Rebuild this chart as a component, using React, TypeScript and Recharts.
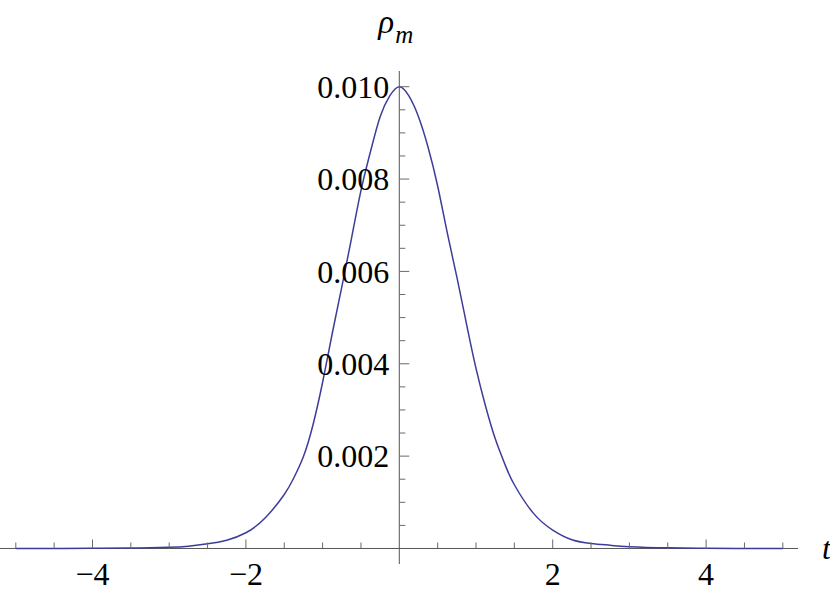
import React from 'react';
import { LineChart, Line, XAxis, YAxis, ReferenceLine, ReferenceDot } from 'recharts';

// t values (horizontal axis) and rho_m values
const tValues = [
  -5, -4.5, -4, -3.5, -3, -2.75, -2.5, -2.25, -2, -1.75, -1.5, -1.375, -1.25, -1.125, -1,
  -0.875, -0.75, -0.625, -0.5, -0.375, -0.25, -0.125, 0, 0.125, 0.25, 0.375, 0.5, 0.625,
  0.75, 0.875, 1, 1.125, 1.25, 1.375, 1.5, 1.75, 2, 2.25, 2.5, 2.75, 3, 3.5, 4, 4.5, 5,
];
const rhoValues = [
  0, 0.000001, 0.000003, 0.00001, 0.000025, 0.00005, 0.0001, 0.00018, 0.00034, 0.00066,
  0.00117, 0.00153, 0.00199, 0.00268, 0.0036, 0.00465, 0.00566, 0.0067, 0.00775, 0.0086,
  0.00935, 0.0098, 0.01, 0.0098, 0.00935, 0.00869, 0.00785, 0.00684, 0.00588, 0.00487,
  0.0039, 0.00308, 0.00238, 0.00183, 0.00138, 0.00076, 0.0004, 0.00019, 0.00011, 0.00007,
  0.00004, 0.000015, 0.000005, 0.000002, 0.000001,
];

const xDomain = [-5.206, 5.198];
const yDomain = [-0.000336, 0.01034];

const xMinorTicks = [-5, -4.5, -3.5, -3, -2.5, -1.5, -1, -0.5, 0.5, 1, 1.5, 2.5, 3, 3.5, 4.5, 5];
const xMajorTicks = [-4, -2, 2, 4];
const xTickLabels = ['\u22124', '\u22122', '2', '4'];

const yMinorTicks = [
  0.0005, 0.001, 0.0015, 0.0025, 0.003, 0.0035, 0.0045, 0.005, 0.0055, 0.0065, 0.007, 0.0075,
  0.0085, 0.009, 0.0095,
];
const yMajorTicks = [0.002, 0.004, 0.006, 0.008, 0.01];
const yTickLabels = ['0.002', '0.004', '0.006', '0.008', '0.010'];

const data = tValues.map((t, i) => ({ t, rho: rhoValues[i] }));

const SERIF = '"Liberation Serif", "Times New Roman", serif';
const AXIS_COLOR = '#555555';
const TICK_COLOR = '#6a6a6a';
const CURVE_COLOR = '#3d3d99';

const vTick = (len: number) => (p: any) => (
  <line x1={p.cx} y1={p.cy} x2={p.cx} y2={p.cy - len} stroke={TICK_COLOR} strokeWidth={1} />
);
const hTick = (len: number) => (p: any) => (
  <line x1={p.cx} y1={p.cy} x2={p.cx + len} y2={p.cy} stroke={TICK_COLOR} strokeWidth={1} />
);
const noShape = () => <g />;

const RhoLabel = (props: any) => {
  const vb = props.viewBox || {};
  return (
    <text x={vb.x - 21} y={vb.y - 38} fontFamily={SERIF} fill="#000">
      <tspan fontSize={33} fontStyle="italic">ρ</tspan>
      <tspan fontSize={25} fontStyle="italic" dx={1} dy={10}>m</tspan>
    </text>
  );
};

const TLabel = (props: any) => {
  const vb = props.viewBox || {};
  return (
    <text x={vb.x + 24} y={vb.y + 11} fontFamily={SERIF} fontSize={32} fontStyle="italic" fill="#000">
      t
    </text>
  );
};

export default function App() {
  return (
    <div style={{ position: 'absolute', left: 0, top: 0, width: 830, height: 595, background: '#fff' }}>
      <LineChart
        width={830}
        height={595}
        data={data}
        margin={{ top: 71, right: 32, bottom: 31, left: 0 }}
      >
        <XAxis dataKey="t" type="number" domain={xDomain} allowDataOverflow hide />
        <YAxis type="number" domain={yDomain} allowDataOverflow hide />
        <ReferenceLine x={0} stroke={AXIS_COLOR} strokeWidth={1} />
        <ReferenceLine y={0} stroke={AXIS_COLOR} strokeWidth={1} />
        {xMinorTicks.map((t) => (
          <ReferenceDot key={'xm' + t} x={t} y={0} r={0} shape={vTick(6)} />
        ))}
        {xMajorTicks.map((t, i) => (
          <ReferenceDot
            key={'xM' + t}
            x={t}
            y={0}
            r={0}
            shape={vTick(9)}
            label={{
              value: xTickLabels[i],
              position: 'bottom',
              offset: 14,
              fill: '#000',
              fontSize: 32,
              fontFamily: SERIF,
            }}
          />
        ))}
        {yMinorTicks.map((v) => (
          <ReferenceDot key={'ym' + v} x={0} y={v} r={0} shape={hTick(6)} />
        ))}
        {yMajorTicks.map((v, i) => (
          <ReferenceDot
            key={'yM' + v}
            x={0}
            y={v}
            r={0}
            shape={hTick(10)}
            label={{
              value: yTickLabels[i],
              position: 'left',
              offset: 10,
              fill: '#000',
              fontSize: 32,
              fontFamily: SERIF,
            }}
          />
        ))}
        <ReferenceDot x={0} y={yDomain[1]} r={0} shape={noShape} label={<RhoLabel />} />
        <ReferenceDot x={xDomain[1]} y={0} r={0} shape={noShape} label={<TLabel />} />
        <Line
          type="natural"
          dataKey="rho"
          stroke={CURVE_COLOR}
          strokeWidth={1.5}
          dot={false}
          activeDot={false}
          isAnimationActive={false}
        />
      </LineChart>
    </div>
  );
}
